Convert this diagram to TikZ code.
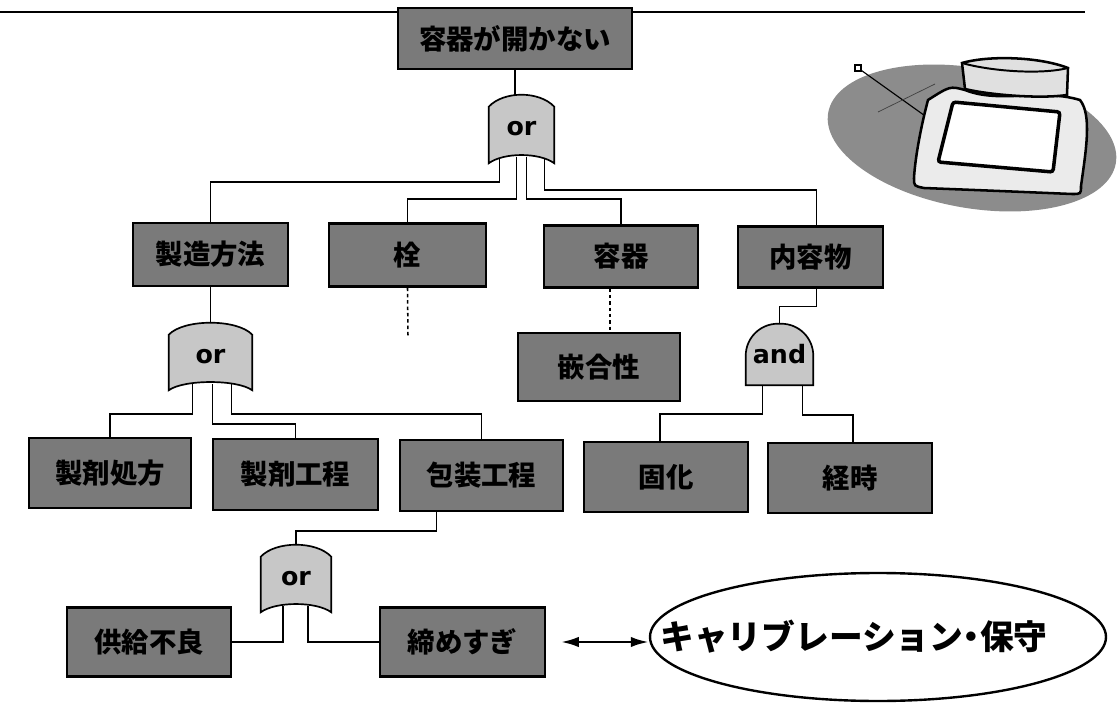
\documentclass[tikz,border=0pt]{standalone}
\usepackage{fontspec}
\newfontfamily\jp{Noto Sans CJK JP}
\newfontfamily\gatefont{DejaVu Sans}
\usetikzlibrary{shapes.geometric,calc,backgrounds,arrows.meta}

% one pixel of the layout grid
\newcommand{\pxu}{0.025cm}

% outline of an or-gate around a named node
\newcommand{\orbody}[1]{%
  \filldraw[gatebody] (#1.south west) -- ($(#1.north west)+(0,-12)$)
    .. controls ($(#1.north west)+(15,4)$) and ($(#1.north east)+(-15,4)$) .. ($(#1.north east)+(0,-12)$)
    -- (#1.south east)
    .. controls ($(#1.south east)+(-15,11)$) and ($(#1.south west)+(15,11)$) .. (#1.south west) -- cycle;}

% outline of an and-gate around a named node
\newcommand{\andbody}[1]{%
  \filldraw[gatebody] (#1.south west) [rounded corners=0.8cm] -- (#1.north west) -- (#1.north east)
    [sharp corners] -- (#1.south east) -- cycle;}

\begin{document}
\begin{tikzpicture}[
x=\pxu, y=\pxu,
event/.style={
  draw,
  line width=1.5pt,
  fill=black!52,
  inner sep=0pt,
  minimum height={69*\pxu},
  font=\jp\bfseries\fontsize{19.5}{19.5}\selectfont
},
orgate/.style={
  inner sep=0pt,
  minimum height={68*\pxu},
  font=\gatefont\bfseries\fontsize{18}{18}\selectfont
},
gatebody/.style={draw, line width=1.2pt, fill=black!22},
link/.style={line width=1.15pt},
dots/.style={line width=1.1pt, dash pattern=on 2.5pt off 2pt},
tip/.tip={Latex[length=0.45cm,width=0.26cm]}
]
\path[use as bounding box] (0,0) rectangle (1120,-703);

% top event and first or-gate
\node[event, minimum width={234*\pxu}, minimum height={61*\pxu}] (top) at (515,-38.5) {容器が開かない};
\node[orgate, minimum width={65*\pxu}] (g1) at (521.5,-129) {or};

% second row
\node[event, minimum width={155*\pxu}, minimum height={63*\pxu}] (mfg) at (210.5,-254.5) {製造方法};
\node[event, minimum width={157*\pxu}, minimum height={63*\pxu}] (plug) at (407.5,-255) {栓};
\node[event, minimum width={154*\pxu}, minimum height={62*\pxu}] (cont) at (621,-256.5) {容器};
\node[event, minimum width={145*\pxu}, minimum height={61*\pxu}] (content) at (810.5,-257) {内容物};

\node[event, minimum width={162*\pxu}, minimum height={68*\pxu}] (fit) at (599,-367) {嵌合性};
\node[orgate, minimum width={83*\pxu}, minimum height={67*\pxu}] (g2) at (210.5,-356.5) {or};
\node[orgate, minimum width={67*\pxu}, minimum height={61*\pxu}] (gand) at (779.5,-354.5) {and};

% third row
\node[event, minimum width={162*\pxu}, minimum height={70*\pxu}] (form) at (110,-473) {製剤処方};
\node[event, minimum width={165*\pxu}, minimum height={71*\pxu}] (proc) at (295.5,-474.5) {製剤工程};
\node[event, minimum width={163*\pxu}, minimum height={71*\pxu}] (pack) at (481.5,-475.5) {包装工程};
\node[event, minimum width={164*\pxu}, minimum height={70*\pxu}] (solid) at (666,-477) {固化};
\node[event, minimum width={164*\pxu}, minimum height={70*\pxu}] (aging) at (850,-478) {経時};

% packaging branch
\node[orgate, minimum width={70*\pxu}, minimum height={67*\pxu}] (g3) at (296,-578.5) {or};
\node[event, minimum width={164*\pxu}] (supply) at (149,-642) {供給不良};
\node[event, minimum width={165*\pxu}] (tight) at (462.5,-642) {締めすぎ};

\node[draw, ellipse, line width=1.7pt, inner sep=0pt,
  minimum width={456*\pxu}, minimum height={128*\pxu},
  font=\jp\bfseries\fontsize{24}{24}\selectfont] (calib) at (878,-637)
  {\makebox[0pt]{\hspace*{-1.2cm}キャリブレーション\kern-0.25em・\kern-0.25em 保守}};

\draw[tip-tip, line width=1.9pt, shorten <=0.37cm]
  (tight.east) -- (tight.east -| calib.west);

\coordinate (rl) at (0,-12);
\coordinate (rr) at (1085,-12);
\coordinate (plugend) at (408,-337);

\begin{scope}[on background layer]
\fill[white] (0,0) rectangle (1120,-703);
\draw[link] (rl) -- (rr);

\draw[link] (top.south) -- (top.south |- g1.north);
\draw[link] ($(g1.south)+(-22,6)$) -- ++(0,-25) -| (mfg.north);
\draw[link] ($(g1.south)+(-5,6)$) -- ++(0,-42) -| (plug.north);
\draw[link] ($(g1.south)+(5,6)$) -- ++(0,-42) -| (cont.north);
\draw[link] ($(g1.south)+(23,6)$) -- ++(0,-33) -| ($(content.north)+(6,0)$);

\draw[dots] (plug.south) -- (plugend);
\draw[dots] ($(cont.south)+(-11,0)$) -- ($(fit.north)+(11,0)$);

\draw[link] (mfg.south) -- (mfg.south |- g2.north);
\draw[link] ($(g2.south)+(-18,6)$) -- ++(0,-30) -| (form.north);
\draw[link] ($(g2.south)+(2,6)$) -- ++(0,-40) -| (proc.north);
\draw[link] ($(g2.south)+(21,6)$) -- ++(0,-30) -| (pack.north);

\draw[link] ($(content.south)+(6,0)$) -- ++(0,-18) -| (gand.north);
\draw[link] ($(gand.south)+(-17,6)$) -- ++(0,-35) -| ($(solid.north)+(-6,0)$);
\draw[link] ($(gand.south)+(23,6)$) -- ++(0,-36) -| ($(aging.north)+(3,0)$);

\draw[link] ($(pack.south)+(-45,0)$) -- ++(0,-19) -| (g3.north);
\draw[link] ($(g3.south)+(-13,6)$) |- (supply.east);
\draw[link] ($(g3.south)+(12,6)$) |- (tight.west);

\orbody{g1}
\orbody{g2}
\orbody{g3}
\andbody{gand}
\end{scope}

% jar on its mat
\fill[black!45] (972,-138) ellipse [x radius=146, y radius=70, rotate=-10];
\draw[line width=0.8pt] (858,-68) -- (928,-118);
\draw[black!75, line width=0.5pt] (878,-112) -- (935,-84);
\draw[line width=0.8pt, fill=white] (855,-65) rectangle (861,-71);
\filldraw[fill=black!8, line width=1.8pt]
  (928,-100) .. controls (920,-130) and (915,-160) .. (914,-178)
  .. controls (914,-186) .. (924,-188)
  .. controls (1000,-191) .. (1072,-194)
  .. controls (1081,-194) .. (1081,-186)
  .. controls (1086,-150) and (1092,-115) .. (1080,-100)
  .. controls (1040,-88) and (1000,-104) .. (965,-90)
  .. controls (950,-86) .. (928,-100) -- cycle;
\filldraw[fill=black!12, line width=1.8pt]
  (962,-63) .. controls (990,-55) and (1040,-57) .. (1068,-68)
  -- (1067,-95)
  .. controls (1040,-99) and (990,-95) .. (965,-89) -- cycle;
\draw[line width=1.4pt] (962,-63) .. controls (990,-71) and (1040,-75) .. (1068,-68);
\filldraw[fill=white, line width=2.5pt, rounded corners=2pt]
  (953,-102) -- (1060,-112) -- (1053,-172) -- (938,-162) -- cycle;
\end{tikzpicture}
\end{document}
